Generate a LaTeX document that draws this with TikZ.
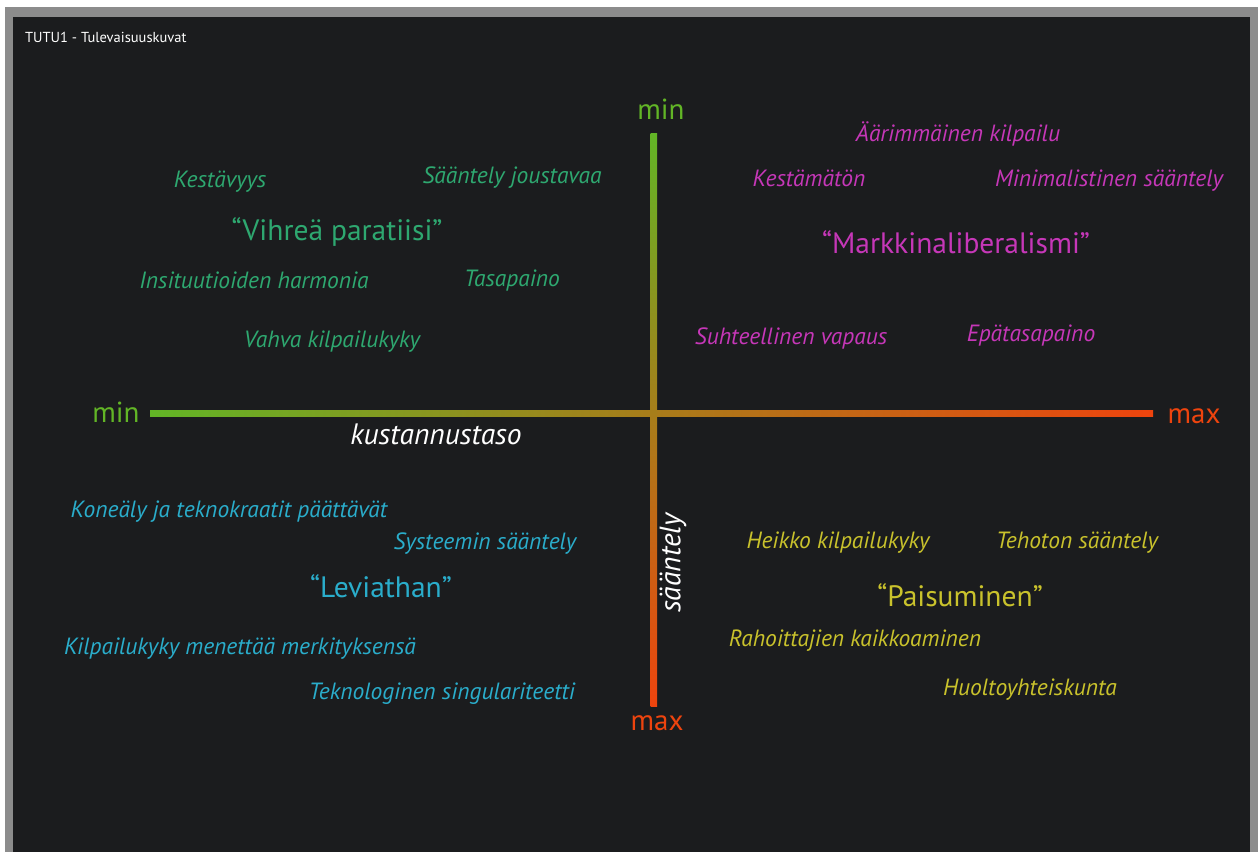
\documentclass[tikz,border=0pt]{standalone}
\usepackage{fontspec}
\setmainfont{PT Sans}
\definecolor{bgdark}{HTML}{1B1C1E}
\definecolor{framegrey}{HTML}{8C8C8C}
\definecolor{axgreen}{HTML}{62B526}
\definecolor{axmid}{HTML}{D49A0E}
\definecolor{axred}{HTML}{EE440E}
\definecolor{qgreen}{HTML}{2EA870}
\definecolor{qmag}{HTML}{C637B8}
\definecolor{qcyan}{HTML}{2AADCB}
\definecolor{qyellow}{HTML}{C9C22C}
\tikzset{
  small/.style={font=\fontsize{23.5}{26}\selectfont\itshape, inner sep=0pt, anchor=center, yshift=-2.5pt},
  big/.style={font=\fontsize{29.5}{33}\selectfont, inner sep=0pt, anchor=center, yshift=-1pt},
  axlabel/.style={font=\fontsize{29}{32}\selectfont, inner sep=0pt, anchor=center},
  axname/.style={font=\fontsize{29.5}{33}\selectfont\itshape, inner sep=0pt, anchor=center, text=white},
}
\begin{document}
\begin{tikzpicture}[x=1pt,y=-1pt]
\useasboundingbox (0,0) rectangle (1258,852);
\fill[white] (0,0) rectangle (1258,852);
\fill[framegrey] (5,7) rectangle (1258,852);
\fill[bgdark] (13,17) rectangle (1250,852);
\node[font=\fontsize{14.5}{17}\selectfont, text=white, anchor=west, inner sep=0pt] (title) at (25,37) {TUTU1 - Tulevaisuuskuvat};
% axes
\shade[left color=axgreen, middle color=axmid, right color=axred] (150,410.5) rectangle (1153,416.5);
\shade[top color=axgreen, middle color=axmid, bottom color=axred] (650.5,133) rectangle (657,706);
\node[axlabel, text=axgreen] (xmin) at (116,412) {min};
\node[axlabel, text=axred] (xmax) at (1194,416) {max};
\node[axlabel, text=axgreen] (ymin) at (661,109) {min};
\node[axlabel, text=axred] (ymax) at (657,723) {max};
\node[axname] (xname) at (436,434) {kustannustaso};
\node[axname, rotate=90] (yname) at (673,563) {sääntely};
% top-left
\begin{scope}[text=qgreen]
\node[small] (a1) at (220,179) {Kestävyys};
\node[small] (a2) at (512,175) {Sääntely joustavaa};
\node[big] (a3) at (337,231) {“Vihreä paratiisi”};
\node[small] (a4) at (254,278) {Insituutioiden harmonia};
\node[small] (a5) at (512,278) {Tasapaino};
\node[small] (a6) at (332,339) {Vahva kilpailukyky};
\end{scope}
% top-right
\begin{scope}[text=qmag]
\node[small] (b1) at (958,131) {Äärimmäinen kilpailu};
\node[small] (b2) at (809,176) {Kestämätön};
\node[small] (b3) at (1109,178) {Minimalistinen sääntely};
\node[big] (b4) at (956,241) {“Markkinaliberalismi”};
\node[small] (b5) at (791,336) {Suhteellinen vapaus};
\node[small] (b6) at (1031,333) {Epätasapaino};
\end{scope}
% bottom-left
\begin{scope}[text=qcyan]
\node[small] (c1) at (229,509) {Koneäly ja teknokraatit päättävät};
\node[small] (c2) at (485,541) {Systeemin sääntely};
\node[big] (c3) at (381,585) {“Leviathan”};
\node[small] (c4) at (240,646) {Kilpailukyky menettää merkityksensä};
\node[small] (c5) at (442,691) {Teknologinen singulariteetti};
\end{scope}
% bottom-right
\begin{scope}[text=qyellow]
\node[small] (d1) at (838,540) {Heikko kilpailukyky};
\node[small] (d2) at (1077,540) {Tehoton sääntely};
\node[big] (d3) at (960,594) {“Paisuminen”};
\node[small] (d4) at (855,638) {Rahoittajien kaikkoaminen};
\node[small] (d5) at (1030,687) {Huoltoyhteiskunta};
\end{scope}
\end{tikzpicture}
\end{document}
